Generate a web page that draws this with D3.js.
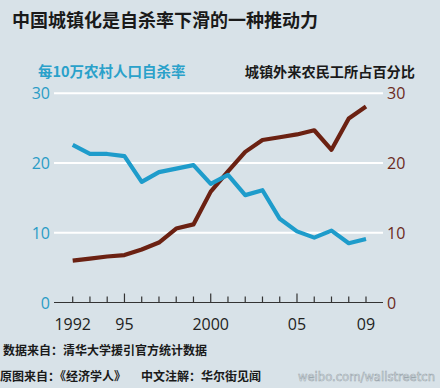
<!DOCTYPE html>
<html><head><meta charset="utf-8">
<script src="https://cdn.jsdelivr.net/npm/d3@7"></script>
<style>
html,body{margin:0;padding:0;background:#d8e2e8;}
svg{display:block;}
</style></head>
<body>
<script>
const years = [1992,1993,1994,1995,1996,1997,1998,1999,2000,2001,2002,2003,2004,2005,2006,2007,2008,2009];
const suicideRate = [22.6,21.3,21.3,21.0,17.3,18.7,19.2,19.7,17.0,18.3,15.4,16.1,12.0,10.2,9.3,10.3,8.5,9.1];
const migrantShare = [6.0,6.3,6.6,6.8,7.6,8.6,10.6,11.2,15.9,18.8,21.6,23.3,23.7,24.1,24.7,21.9,26.4,28.1];
const yTicks = [0,10,20,30];
const xTickLabels = [[1992,"1992"],[1995,"95"],[2000,"2000"],[2005,"05"],[2009,"09"]];
const title = "中国城镇化是自杀率下滑的一种推动力";
const leftLegend = "每10万农村人口自杀率";
const rightLegend = "城镇外来农民工所占百分比";
const source1 = "数据来自：清华大学援引官方统计数据";
const source2a = "原图来自：《经济学人》";
const source2b = "中文注解：华尔街见闻";
const watermark = "weibo.com/wallstreetcn";

const W=440,H=388;
const blue="#1e9ccb", brown="#6b2112";
const font="'Noto Sans CJK SC','Noto Sans',sans-serif";
const svg=d3.select("body").append("svg").attr("width",W).attr("height",H);
svg.append("rect").attr("width",W).attr("height",H).attr("fill","#d8e2e8");

const x=d3.scaleLinear().domain([1992,2009]).range([72.7,366]);
const y=d3.scaleLinear().domain([0,30]).range([302.5,93.3]);
const x0=54,x1=383;

// title
svg.append("text").attr("x",12).attr("y",27).attr("font-family",font).attr("font-weight","bold")
  .attr("font-size",18).attr("fill","#1a1a1a").text(title);
svg.append("text").attr("x",38).attr("y",77).attr("font-family",font).attr("font-weight","bold")
  .attr("font-size",14.5).attr("fill","#2aa1ca").text(leftLegend);
svg.append("text").attr("x",415).attr("y",77).attr("text-anchor","end").attr("font-family",font).attr("font-weight","bold")
  .attr("font-size",14.2).attr("fill","#1a1a1a").text(rightLegend);

// gridlines
svg.selectAll("line.grid").data(yTicks.filter(d=>d>0)).join("line").attr("class","grid")
  .attr("x1",x0).attr("x2",x1).attr("y1",d=>y(d)).attr("y2",d=>y(d))
  .attr("stroke","#ffffff").attr("stroke-width",2);

// y labels
svg.selectAll("text.yl").data(yTicks).join("text").attr("class","yl")
  .attr("x",50).attr("y",d=>y(d)+6).attr("text-anchor","end")
  .attr("font-family","'Open Sans','Noto Sans',sans-serif").attr("font-size",16).attr("fill","#2a9cc6").text(d=>d);
svg.selectAll("text.yr").data(yTicks).join("text").attr("class","yr")
  .attr("x",387).attr("y",d=>y(d)+6).attr("text-anchor","start")
  .attr("font-family","'Open Sans','Noto Sans',sans-serif").attr("font-size",16).attr("fill","#6b2a1c").text(d=>d);

// x axis
svg.append("line").attr("x1",x0).attr("x2",x1).attr("y1",y(0)).attr("y2",y(0))
  .attr("stroke","#333").attr("stroke-width",1.2);
svg.selectAll("line.xt").data(years).join("line").attr("class","xt")
  .attr("x1",d=>x(d)).attr("x2",d=>x(d)).attr("y1",y(0))
  .attr("y2",d=>y(0)-(d%5===0?9:6)).attr("stroke","#333").attr("stroke-width",1.2);
svg.selectAll("text.xl").data(xTickLabels).join("text").attr("class","xl")
  .attr("x",d=>x(d[0])).attr("y",330).attr("text-anchor","middle")
  .attr("font-family","'Open Sans','Noto Sans',sans-serif").attr("font-size",16).attr("fill","#222").text(d=>d[1]);

// lines
const line=(vals)=>d3.line().x((d,i)=>x(years[i])).y(d=>y(d))(vals);
svg.append("path").attr("d",line(migrantShare)).attr("fill","none").attr("stroke",brown)
  .attr("stroke-width",4.2).attr("stroke-linejoin","round");
svg.append("path").attr("d",line(suicideRate)).attr("fill","none").attr("stroke",blue)
  .attr("stroke-width",4.2).attr("stroke-linejoin","round");

// footer
svg.append("text").attr("x",3).attr("y",355).attr("font-family",font).attr("font-weight","bold")
  .attr("font-size",12).attr("fill","#1a1a1a").text(source1);
svg.append("text").attr("x",0).attr("y",381).attr("font-family",font).attr("font-weight","bold")
  .attr("font-size",12).attr("fill","#1a1a1a").text(source2a);
svg.append("text").attr("x",141).attr("y",381).attr("font-family",font).attr("font-weight","bold")
  .attr("font-size",12).attr("fill","#1a1a1a").text(source2b);
svg.append("text").attr("x",435).attr("y",381).attr("text-anchor","end").attr("font-family","'DejaVu Sans',sans-serif")
  .attr("font-size",12).attr("textLength",137).attr("lengthAdjust","spacingAndGlyphs")
  .attr("fill","#eef2f5").attr("stroke","#9aa6ad").attr("stroke-width",0.6).text(watermark);
</script>
</body></html>
